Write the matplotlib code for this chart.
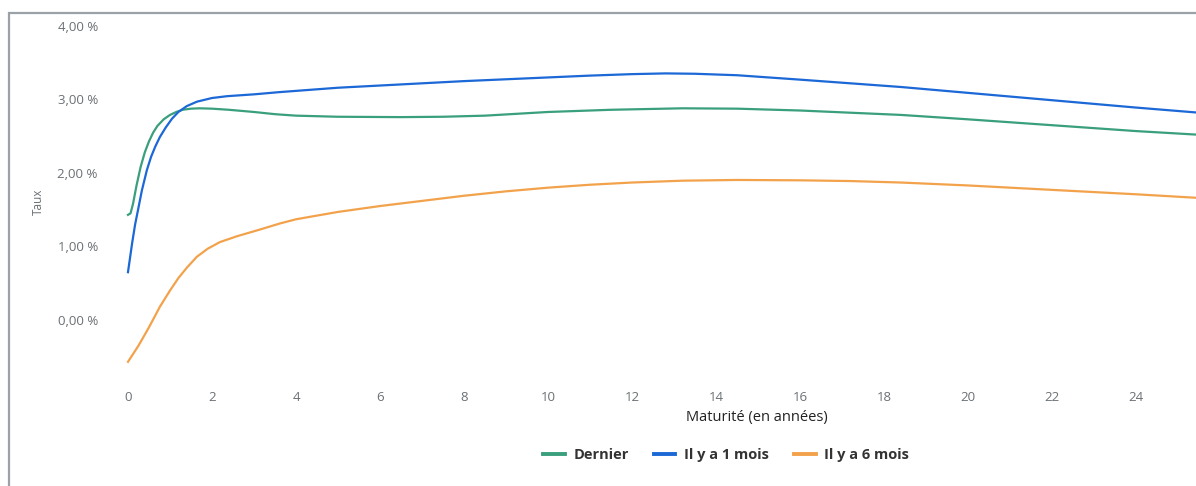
import matplotlib
matplotlib.use("Agg")
import matplotlib.pyplot as plt
from matplotlib.patches import Rectangle
from matplotlib.ticker import FuncFormatter

# Courbe des taux (maturité en années, taux en %)
dernier_x = [0, 0.06, 0.12, 0.2, 0.3, 0.4, 0.5, 0.6, 0.7, 0.85, 1.0, 1.15, 1.3, 1.5, 1.7,
             2.0, 2.4, 3.0, 3.5, 4, 5, 6.5, 7.5, 8.5, 10, 11.5, 13.2, 14.5, 16, 18.4, 20,
             22, 24, 25.5]
dernier_y = [1.43, 1.45, 1.58, 1.82, 2.08, 2.28, 2.43, 2.55, 2.64, 2.73, 2.79, 2.83, 2.86,
             2.875, 2.88, 2.875, 2.86, 2.83, 2.80, 2.78, 2.765, 2.76, 2.765, 2.78, 2.83,
             2.86, 2.88, 2.875, 2.85, 2.79, 2.73, 2.65, 2.57, 2.52]

mois1_x = [0, 0.05, 0.1, 0.17, 0.24, 0.33, 0.45, 0.55, 0.65, 0.76, 0.9, 1.05, 1.2, 1.4,
           1.64, 2, 2.36, 3, 3.6, 4.3, 5, 6, 7, 8, 9, 10, 11, 12, 12.8, 13.5, 14.5, 16,
           17.2, 18.4, 20, 22, 24, 25.5]
mois1_y = [0.65, 0.85, 1.05, 1.30, 1.50, 1.76, 2.04, 2.22, 2.36, 2.49, 2.62, 2.74, 2.83,
           2.91, 2.97, 3.02, 3.045, 3.07, 3.10, 3.13, 3.16, 3.19, 3.22, 3.25, 3.275, 3.30,
           3.325, 3.345, 3.355, 3.35, 3.33, 3.27, 3.22, 3.17, 3.09, 2.99, 2.89, 2.82]

mois6_x = [0, 0.25, 0.5, 0.76, 1.0, 1.2, 1.4, 1.64, 1.9, 2.19, 2.6, 3.14, 3.6, 4, 4.5, 5,
           6, 7, 8, 9, 10, 11, 12, 13.2, 14.5, 16, 17.2, 18.4, 20, 22, 24, 25.5]
mois6_y = [-0.57, -0.35, -0.10, 0.18, 0.40, 0.57, 0.71, 0.86, 0.97, 1.06, 1.14, 1.23,
           1.31, 1.37, 1.42, 1.47, 1.55, 1.62, 1.69, 1.75, 1.80, 1.84, 1.87, 1.895, 1.905,
           1.90, 1.89, 1.87, 1.83, 1.77, 1.71, 1.66]

x_ticks = list(range(0, 25, 2))
y_ticks = [0, 1, 2, 3, 4]

W, H = 1196, 486
fig = plt.figure(figsize=(W / 100, H / 100), dpi=100)
plt.rcParams["font.family"] = ["Open Sans", "DejaVu Sans"]

# frame of the chart container (cut at right and bottom)
fig.patches.append(Rectangle((9 / W, -0.1), 1.2, (H - 13) / H + 0.1,
                             transform=fig.transFigure, fill=False,
                             edgecolor="#9aa2a8", lw=1.6))

# plot area runs past the right edge of the image
ax = fig.add_axes([120 / W, (H - 378) / H, (1394 - 120) / W, (378 - 26) / H])
ax.set_xlim(-0.19, 30.14)
ax.set_ylim(-0.79, 4.0)

ax.plot(dernier_x, dernier_y, color="#3a9f7c", lw=1.6, label="Dernier")
ax.plot(mois1_x, mois1_y, color="#1b68d6", lw=1.6, label="Il y a 1 mois")
ax.plot(mois6_x, mois6_y, color="#f3a24c", lw=1.6, label="Il y a 6 mois")

for s in ax.spines.values():
    s.set_visible(False)
ax.set_xticks(x_ticks)
ax.set_yticks(y_ticks)
ax.yaxis.set_major_formatter(FuncFormatter(lambda v, _: f"{v:.2f} %".replace(".", ",")))
ax.tick_params(axis="both", length=0, labelsize=9.5, colors="#6b7074")
ax.tick_params(axis="x", pad=9)
ax.tick_params(axis="y", pad=16)

ax.set_xlabel("Maturité (en années)", fontsize=10.5, color="#222222", labelpad=5)
ax.set_ylabel("Taux", fontsize=8.5, color="#6b7074", labelpad=9)

leg = fig.legend(loc="center", bbox_to_anchor=(726 / W, 1 - 455 / H), ncol=3,
                 frameon=False, handlelength=1.5, handletextpad=0.6,
                 columnspacing=1.7, prop={"size": 10.5, "weight": "bold"})
for line in leg.get_lines():
    line.set_linewidth(2.8)
for t in leg.get_texts():
    t.set_color("#333333")

fig.savefig("out.png", dpi=100, facecolor="white")
